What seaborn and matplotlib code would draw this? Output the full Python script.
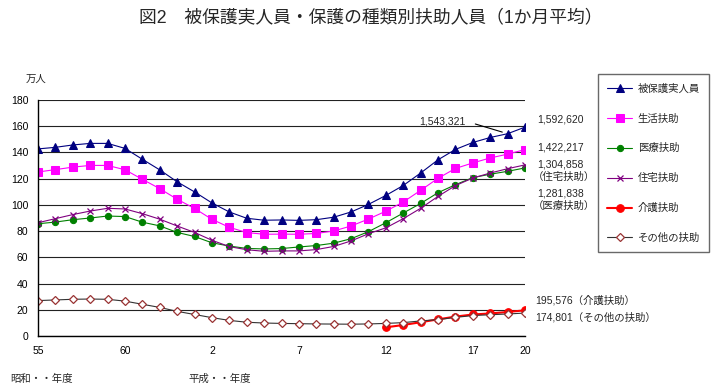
"""Fig.2: public assistance recipients by type of assistance (monthly average)."""

import numpy as np
import pandas as pd
import matplotlib
matplotlib.use("Agg")
import matplotlib.pyplot as plt
import seaborn as sns

# fiscal years: Showa 55-63, Heisei 1-20
years = ["55", "56", "57", "58", "59", "60", "61", "62", "63",
         "1", "2", "3", "4", "5", "6", "7", "8", "9", "10",
         "11", "12", "13", "14", "15", "16", "17", "18", "19", "20"]
tick_shown = ["55", "60", "2", "7", "12", "17", "20"]

# values in 10,000 persons
hihogo = [142.7, 143.9, 145.7, 146.9, 146.9, 143.1, 134.8, 126.7, 117.6,
          109.9, 101.5, 94.6, 89.8, 88.3, 88.5, 88.2, 88.7, 90.6, 94.6,
          100.4, 107.2, 114.8, 124.3, 134.4, 142.3, 147.6, 151.4, 154.3, 159.3]
seikatsu = [125.1, 126.9, 128.8, 130.1, 130.1, 126.8, 119.5, 112.4, 104.3,
            97.3, 89.0, 82.9, 78.9, 77.6, 77.7, 77.6, 78.2, 80.1, 83.9,
            89.2, 95.2, 102.2, 111.1, 120.3, 127.8, 132.0, 135.8, 138.7, 142.2]
iryo = [85.6, 86.9, 88.7, 90.0, 91.5, 91.1, 86.8, 84.0, 79.0,
        75.9, 71.1, 68.6, 66.8, 66.4, 66.7, 67.9, 69.0, 70.8, 74.2,
        79.6, 86.4, 93.8, 101.1, 109.3, 115.4, 120.8, 123.4, 125.6, 128.2]
jutaku = [86.4, 89.5, 92.6, 95.3, 97.4, 96.9, 93.3, 89.1, 83.9,
          79.0, 73.0, 68.2, 65.8, 64.6, 64.9, 64.9, 65.9, 68.3, 72.5,
          78.0, 82.5, 89.5, 97.4, 106.5, 114.7, 120.5, 124.3, 127.6, 130.5]
kaigo = [np.nan] * 20 + [6.6, 8.4, 10.5, 12.7, 14.8, 16.4, 17.2, 18.3, 19.6]
sonota = [27.0, 27.5, 28.0, 28.2, 28.0, 26.6, 24.2, 21.8, 18.8,
          16.4, 14.0, 11.9, 10.5, 9.9, 9.6, 9.4, 9.2, 9.1, 9.0,
          9.2, 9.6, 10.2, 11.5, 12.5, 14.2, 15.6, 16.2, 16.8, 17.5]

series_names = ["被保護実人員", "生活扶助", "医療扶助", "住宅扶助", "介護扶助", "その他の扶助"]

styles = [
    dict(color="#000080", marker="^", markersize=6, markerfacecolor="#000080",
         markeredgecolor="#000080", linewidth=0.8),
    dict(color="#FF00FF", marker="s", markersize=6, markerfacecolor="#FF00FF",
         markeredgecolor="#FF00FF", linewidth=0.8),
    dict(color="#008000", marker="o", markersize=4.5, markerfacecolor="#008000",
         markeredgecolor="#008000", linewidth=0.8),
    dict(color="#800080", marker="x", markersize=5, markeredgecolor="#800080",
         markeredgewidth=0.9, linewidth=0.8),
    dict(color="#FF0000", marker="o", markersize=5.5, markerfacecolor="#FF0000",
         markeredgecolor="#FF0000", linewidth=1.5),
    dict(color="#333333", marker="D", markersize=4.5, markerfacecolor="white",
         markeredgecolor="#993333", markeredgewidth=0.9, linewidth=0.8),
]

df = pd.DataFrame({
    "idx": np.arange(len(years)),
    series_names[0]: hihogo,
    series_names[1]: seikatsu,
    series_names[2]: iryo,
    series_names[3]: jutaku,
    series_names[4]: kaigo,
    series_names[5]: sonota,
})

sns.set_style("white")
plt.rcParams["font.family"] = ["Liberation Sans", "Noto Sans CJK JP"]

W, H = 717, 388


def fx(x, y):
    return x / W, 1 - y / H


fig = plt.figure(figsize=(W / 100, H / 100), dpi=100)
ax = fig.add_axes([38 / W, 1 - 336 / H, (525 - 38) / W, (336 - 100) / H])

for name, st in zip(series_names, styles):
    sns.lineplot(data=df, x="idx", y=name, ax=ax, label=name, **st)

ax.set_xlim(0, len(years) - 1)
ax.set_ylim(0, 180)
ax.set_yticks(range(0, 181, 20))
ax.set_xticks(df["idx"])
ax.set_xticklabels([y if y in tick_shown else "" for y in years])
ax.set_xlabel("")
ax.set_ylabel("")
ax.yaxis.grid(True, color="#222222", linewidth=0.8)
ax.set_axisbelow(True)
for s in ["top", "right"]:
    ax.spines[s].set_visible(False)
for s in ["left", "bottom"]:
    ax.spines[s].set_color("black")
    ax.spines[s].set_linewidth(1.0)
ax.tick_params(axis="x", direction="in", length=4, width=0.8, pad=7,
               labelsize=7.5, colors="black")
ax.tick_params(axis="y", direction="out", length=3, width=0.8, pad=4,
               labelsize=7.5, colors="black")

leg = ax.legend(loc="upper left", bbox_to_anchor=fx(598, 74),
                bbox_transform=fig.transFigure, frameon=True, fancybox=False,
                edgecolor="#444444", fontsize=7.5, labelspacing=1.9,
                handlelength=2.4, handletextpad=0.5, borderpad=0.9,
                borderaxespad=0)
leg.get_frame().set_linewidth(1.0)

fig.text(*fx(371, 18), "図2　被保護実人員・保護の種類別扶助人員（1か月平均）",
         ha="center", va="center", fontsize=12.8)
fig.text(*fx(36, 79), "万人", ha="center", va="center", fontsize=7.5)
fig.text(*fx(10, 379), "昭和・・年度", ha="left", va="center", fontsize=7.5)
fig.text(*fx(188, 379), "平成・・年度", ha="left", va="center", fontsize=7.5)

notes = [
    (537, 119, "1,592,620"),
    (537, 147, "1,422,217"),
    (537, 164, "1,304,858"),
    (533, 177, "（住宅扶助）"),
    (537, 193, "1,281,838"),
    (533, 206, "（医療扶助）"),
    (535, 300, "195,576（介護扶助）"),
    (535, 317, "174,801（その他の扶助）"),
]
for x, y, t in notes:
    fig.text(*fx(x, y), t, ha="left", va="center", fontsize=7.5)

ax.annotate("1,543,321", xy=(27, hihogo[27]), xytext=(419, H - 121),
            textcoords="figure pixels", ha="left", va="center", fontsize=7.5,
            arrowprops=dict(arrowstyle="-", color="black", lw=0.8,
                            relpos=(1, 0.5), shrinkA=5, shrinkB=4))

fig.savefig("out.png", dpi=100)
plt.close(fig)
